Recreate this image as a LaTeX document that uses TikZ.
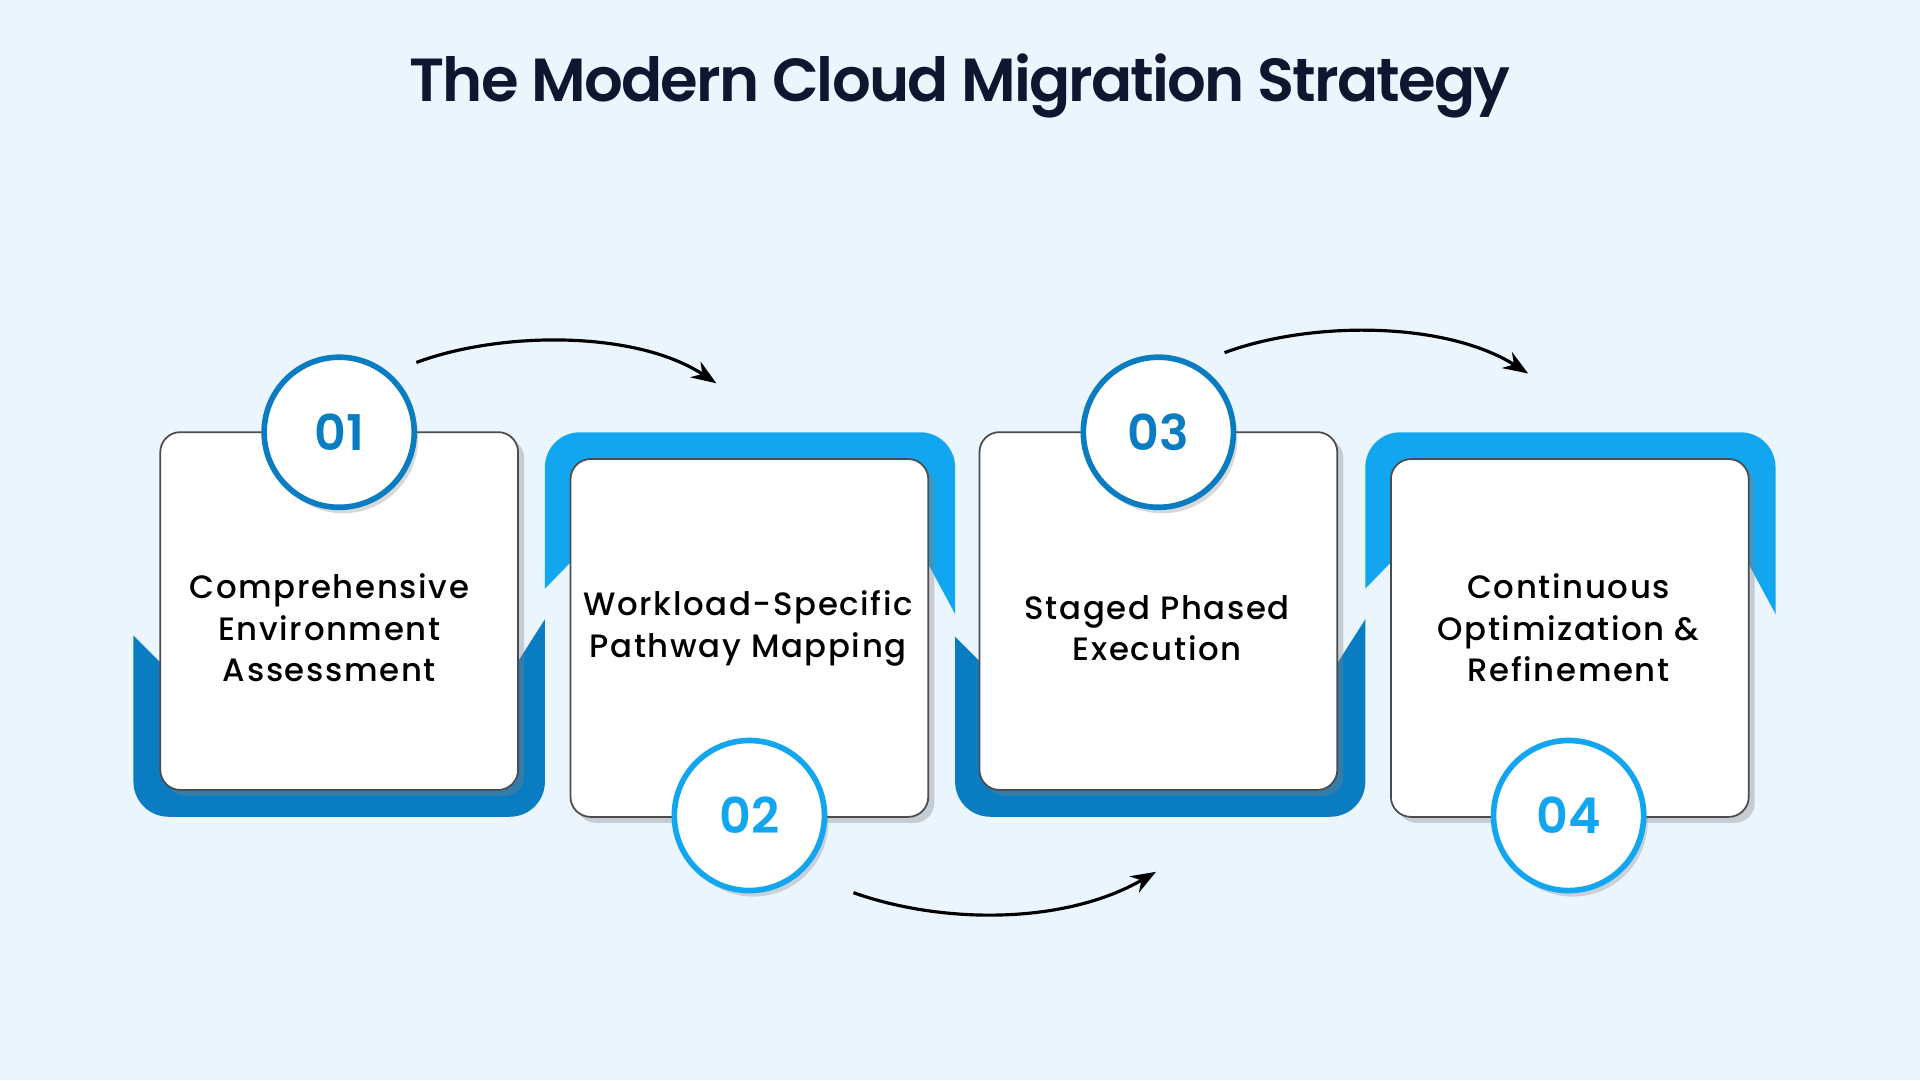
\documentclass[tikz,border=0pt]{standalone}
\usepackage{fontspec}
\setmainfont{Poppins}
\newfontfamily\stepfont[LetterSpace=5, UprightFont=* Medium]{Poppins}
\newfontfamily\titlefont[LetterSpace=-3, UprightFont=* SemiBold]{Poppins}
\newfontfamily\numfont[UprightFont=* SemiBold]{Poppins}
\usetikzlibrary{positioning,shadows,arrows.meta}
\definecolor{bgblue}{HTML}{EAF5FE}
\definecolor{navy}{HTML}{0E1630}
\definecolor{deepblue}{HTML}{0A7CC2}
\definecolor{skyblue}{HTML}{12A6F0}
\tikzset{
  card/.style={draw=black!70, line width=0.5pt, fill=white, rounded corners=0.2cm,
    minimum width=3.576cm, minimum height=3.576cm,
    drop shadow={shadow xshift=0.06cm, shadow yshift=-0.06cm, opacity=0.35}},
  steptext/.style={align=center, font=\stepfont\fontsize{9.2}{11.8}\selectfont},
  badge/.style={circle, fill=white, line width=1.6pt, minimum size=1.5cm,
    font=\numfont\fontsize{14}{14}\selectfont,
    drop shadow={shadow xshift=0.04cm, shadow yshift=-0.06cm, opacity=0.3}},
  flow/.style={-{Stealth[length=0.25cm]}, line width=0.9pt, black}
}
\begin{document}
\begin{tikzpicture}[x=0.012245cm, y=-0.012245cm]
\fill[bgblue] (0,0) rectangle (1568,882);
\useasboundingbox (0,0) rectangle (1568,882);
\node[font=\titlefont\fontsize{17.3}{18}\selectfont, text=navy] (title) at (784,70) {The Modern Cloud Migration Strategy};
% blue frames behind the cards
\begin{scope}
\clip (100,510) -- (135,545) -- (420,545) -- (455,490) -- (455,680) -- (100,680) -- cycle;
\fill[deepblue, rounded corners=0.35cm] (109,353) rectangle (445,667);
\end{scope}
\begin{scope}
\clip (436,490) -- (470,455) -- (755,455) -- (790,520) -- (790,340) -- (436,340) -- cycle;
\fill[skyblue, rounded corners=0.35cm] (445,353) rectangle (780,667);
\end{scope}
\begin{scope}
\clip (770,510) -- (805,545) -- (1090,545) -- (1125,490) -- (1125,680) -- (770,680) -- cycle;
\fill[deepblue, rounded corners=0.35cm] (780,353) rectangle (1115,667);
\end{scope}
\begin{scope}
\clip (1106,490) -- (1140,455) -- (1425,455) -- (1460,520) -- (1460,340) -- (1106,340) -- cycle;
\fill[skyblue, rounded corners=0.35cm] (1115,353) rectangle (1450,667);
\end{scope}
% cards
\node[card] (step1) at (277,499) {};
\node[card] (step2) at (612,521) {};
\node[card] (step3) at (946,499) {};
\node[card] (step4) at (1282,521) {};
\node[steptext] (text1) at (269,513) {Comprehensive\\Environment\\Assessment};
\node[steptext] (text2) at (611,513) {Workload-Specific\\Pathway Mapping};
\node[steptext] (text3) at (945,513) {Staged Phased\\Execution};
\node[steptext] (text4) at (1281,513) {Continuous\\Optimization \&\\Refinement};
% badges
\node[badge, draw=deepblue, text=deepblue] (num1) at (277,353) {01};
\node[badge, draw=skyblue, text=skyblue] (num2) at (612,666) {02};
\node[badge, draw=deepblue, text=deepblue] (num3) at (946,353) {03};
\node[badge, draw=skyblue, text=skyblue] (num4) at (1281,666) {04};
% arrows
\coordinate (a1s) at (340,296); \coordinate (a1e) at (585,313);
\coordinate (a2s) at (697,729); \coordinate (a2e) at (944,712);
\coordinate (a3s) at (1000,288); \coordinate (a3e) at (1248,305);
\draw[flow] (a1s) .. controls (410,270) and (520,270) .. (a1e);
\draw[flow] (a2s) .. controls (770,755) and (870,755) .. (a2e);
\draw[flow] (a3s) .. controls (1070,262) and (1180,262) .. (a3e);
\end{tikzpicture}
\end{document}
